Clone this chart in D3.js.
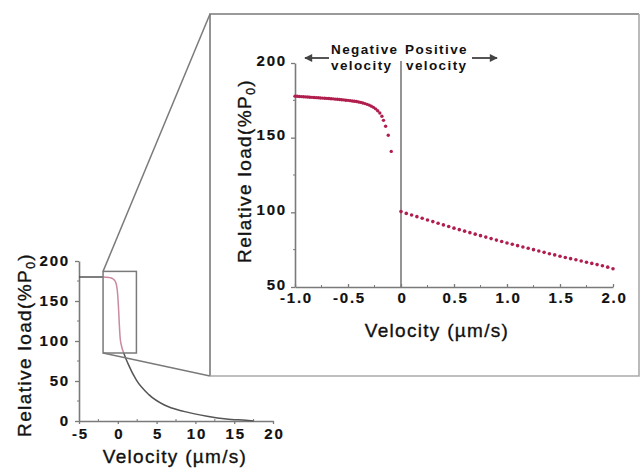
<!DOCTYPE html>
<html><head><meta charset="utf-8">
<script src="https://cdn.jsdelivr.net/npm/d3@7"></script>
<style>
body{margin:0;background:#fff;}
svg{display:block;font-family:"Liberation Sans",Arial,sans-serif;}
.tick text{font-weight:bold;fill:#111;}
</style></head><body>
<svg id="c" width="640" height="473"></svg>
<script>
// ---- Data ----
// Main (overview) curve
const mainV    = [-5, -3, -2, -1.5, -1, -0.6, -0.3, -0.1, 0, 0.1, 0.2, 0.3, 0.45, 0.8, 1.3, 2.4, 4, 6, 8.5, 11.5, 14, 16.5, 17.5];
const mainLoad = [180, 180, 180, 179.8, 179.2, 177.5, 174, 166, 156, 140, 120, 104, 95, 84, 72, 51, 33, 20, 12, 6, 2.5, 0.8, 0];
const mainXTicks = [-5, 0, 5, 10, 15, 20];
const mainYTicks = [0, 50, 100, 150, 200];
const zoomBoxV = [-1.9, 2.4];
const zoomBoxLoad = [85, 187];

// Inset: negative velocity points
const negV = [-1.00,-0.98,-0.96,-0.94,-0.92,-0.90,-0.88,-0.86,-0.84,-0.82,-0.80,-0.78,-0.76,-0.74,-0.72,-0.70,-0.68,-0.66,-0.64,-0.62,-0.60,-0.58,-0.56,-0.54,-0.52,-0.50,-0.48,-0.46,-0.44,-0.42,-0.40,-0.38,-0.36,-0.34,-0.32,-0.30,-0.28,-0.26,-0.24,-0.22,-0.20,-0.18,-0.165,-0.145,-0.12,-0.092];
const negLoad = [177.8,177.7,177.6,177.5,177.4,177.3,177.2,177.1,177.0,176.9,176.8,176.7,176.6,176.5,176.4,176.3,176.2,176.1,176.0,175.8,175.7,175.6,175.4,175.3,175.1,175.0,174.8,174.6,174.4,174.2,173.9,173.6,173.2,172.8,172.3,171.8,171.1,170.3,169.3,168.0,166.5,164.3,161.6,157.6,151.6,140.8];
// Inset: positive velocity points
const posV = [0,0.05,0.10,0.15,0.20,0.25,0.30,0.35,0.40,0.45,0.50,0.55,0.60,0.65,0.70,0.75,0.80,0.85,0.90,0.95,1.00,1.05,1.10,1.15,1.20,1.25,1.30,1.35,1.40,1.45,1.50,1.55,1.60,1.65,1.70,1.75,1.80,1.85,1.90,1.95,2.00];
const posLoad = [100.5,99.3,98.2,97.1,96.0,94.9,93.8,92.7,91.6,90.5,89.4,88.4,87.4,86.4,85.4,84.4,83.4,82.4,81.4,80.5,79.5,78.6,77.7,76.8,75.9,75.0,74.1,73.2,72.3,71.5,70.6,69.8,69.0,68.2,67.4,66.6,65.8,65.0,64.2,63.3,62.2];
const insetXTicks = [-1.0, -0.5, 0, 0.5, 1.0, 1.5, 2.0];
const insetYTicks = [50, 100, 150, 200];

// ---- Drawing ----
const svg = d3.select("#c");
const grey = "#7a7a7a";
const dotCol = "#b01e4e";

// main scales
const mx = d3.scaleLinear().domain([-5, 20]).range([79, 273]);
const my = d3.scaleLinear().domain([0, 200]).range([421, 261]);
// inset scales
const ix = d3.scaleLinear().domain([-1, 2]).range([295, 613]);
const iy = d3.scaleLinear().domain([50, 200]).range([287, 63]);

// inset frame
const frame = {x0: 210, y0: 14, x1: 639, y1: 376};
svg.append("path")
  .attr("d", `M${frame.x0},${frame.y1}V${frame.y0}H${frame.x1}`)
  .attr("fill","none").attr("stroke", grey).attr("stroke-width",1.6);
svg.append("path")
  .attr("d", `M${frame.x1},${frame.y0}V${frame.y1}H${frame.x0}`)
  .attr("fill","none").attr("stroke", "#aaa").attr("stroke-width",1.6);

function styleAxis(g){
  g.select(".domain").attr("stroke", grey).attr("stroke-width",1.6);
  g.selectAll(".tick line").attr("stroke", grey).attr("stroke-width",1.3);
  g.selectAll(".tick text").attr("font-size",15).attr("letter-spacing",1.8)
    .attr("stroke","#111").attr("stroke-width",0.2);
}
function minor(g, scale, vals, orient, pos, len){
  g.selectAll(null).data(vals).enter().append("line")
    .attr("stroke", grey).attr("stroke-width",1)
    .each(function(d){
      const s = d3.select(this);
      if(orient==="x"){ s.attr("x1",scale(d)).attr("x2",scale(d)).attr("y1",pos).attr("y2",pos-len); }
      else { s.attr("y1",scale(d)).attr("y2",scale(d)).attr("x1",pos).attr("x2",pos-len); }
    });
}
function yTitle(x, y){
  const t = svg.append("text").attr("transform",`translate(${x},${y}) rotate(-90)`).attr("text-anchor","middle")
    .attr("font-size",19).attr("letter-spacing",1.4).attr("fill","#111").attr("stroke","#111").attr("stroke-width",0.35);
  t.append("tspan").text("Relative load(%P");
  t.append("tspan").attr("font-size",12).attr("dy",4).text("0");
  t.append("tspan").attr("dy",-4).text(")");
}
function xTitle(x, y){
  svg.append("text").attr("x",x).attr("y",y).attr("text-anchor","middle")
    .attr("font-size",19).attr("letter-spacing",1.3).attr("fill","#111")
    .attr("stroke","#111").attr("stroke-width",0.35).text("Velocity (µm/s)");
}

// ---- main axes ----
const gmx = svg.append("g").attr("transform","translate(0,421)")
  .call(d3.axisBottom(mx).tickValues(mainXTicks).tickSize(3).tickSizeOuter(0).tickPadding(4).tickFormat(d=>String(d)));
styleAxis(gmx);
gmx.selectAll(".tick text").attr("dx",1);
const gmy = svg.append("g").attr("transform","translate(79,0)")
  .call(d3.axisLeft(my).tickValues(mainYTicks).tickSize(4).tickSizeOuter(0).tickPadding(5));
styleAxis(gmy);
const gMinor = svg.append("g");
minor(gMinor, mx, [-2.5,2.5,7.5,12.5,17.5], "x", 421, 2);
minor(gMinor, my, [25,75,125,175], "y", 79, 2);

// main curve
const line = d3.line().x(d=>mx(d[0])).y(d=>my(d[1])).curve(d3.curveMonotoneX);
const mainData = mainV.map((v,i)=>[v, mainLoad[i]]);
svg.append("path").attr("d", line(mainData)).attr("fill","none").attr("stroke","#555").attr("stroke-width",1.5);

const bx0 = mx(zoomBoxV[0]), bx1 = mx(zoomBoxV[1]), by0 = my(zoomBoxLoad[1]), by1 = my(zoomBoxLoad[0]);
svg.append("clipPath").attr("id","boxclip").append("rect")
  .attr("x",bx0).attr("y",by0).attr("width",bx1-bx0).attr("height",by1-by0);
svg.append("path").attr("d", line(mainData)).attr("clip-path","url(#boxclip)")
  .attr("fill","none").attr("stroke","#fff").attr("stroke-width",3);
svg.append("path").attr("d", line(mainData)).attr("clip-path","url(#boxclip)")
  .attr("fill","none").attr("stroke","#c98aa2").attr("stroke-width",1.5);

// zoom box
svg.append("rect").attr("x",bx0).attr("y",by0).attr("width",bx1-bx0).attr("height",by1-by0)
  .attr("fill","none").attr("stroke",grey).attr("stroke-width",1.5);
// connectors
svg.append("line").attr("x1",bx0).attr("y1",by0).attr("x2",frame.x0).attr("y2",frame.y0).attr("stroke",grey).attr("stroke-width",1.5);
svg.append("line").attr("x1",bx0).attr("y1",by1).attr("x2",frame.x0).attr("y2",frame.y1).attr("stroke",grey).attr("stroke-width",1.5);

// main titles
xTitle(175, 463);
yTitle(31, 345);

// ---- inset axes ----
const gix = svg.append("g").attr("transform","translate(0,287)")
  .call(d3.axisBottom(ix).tickValues(insetXTicks).tickSize(-3).tickSizeOuter(0).tickPadding(5)
    .tickFormat(d=> d===0 ? "0" : d.toFixed(1)));
styleAxis(gix);
gix.selectAll(".tick text").attr("dx",1);
const giy = svg.append("g").attr("transform","translate(295,0)")
  .call(d3.axisLeft(iy).tickValues(insetYTicks).tickSize(4).tickSizeOuter(0).tickPadding(4));
styleAxis(giy);
giy.selectAll(".tick text").attr("dy","0.15em");
const gMinor2 = svg.append("g");
minor(gMinor2, ix, [-0.75,-0.25,0.25,0.75,1.25,1.75], "x", 287, 2);
minor(gMinor2, iy, [75,125,175], "y", 295, 2);

// zero line
svg.append("line").attr("x1",ix(0)).attr("x2",ix(0)).attr("y1",61).attr("y2",287)
  .attr("stroke",grey).attr("stroke-width",1.6);

// points
svg.append("g").selectAll("circle").data(negV.map((v,i)=>[v,negLoad[i]])).enter().append("circle")
  .attr("cx",d=>ix(d[0])).attr("cy",d=>iy(d[1])).attr("r",1.7).attr("fill",dotCol);
svg.append("g").selectAll("circle").data(posV.map((v,i)=>[v,posLoad[i]])).enter().append("circle")
  .attr("cx",d=>ix(d[0])).attr("cy",d=>iy(d[1])).attr("r",1.8).attr("fill",dotCol);

// annotations (two-line labels)
const ann = svg.append("g").attr("font-size",13.5).attr("font-weight","bold").attr("fill","#111").attr("letter-spacing",1.4);
ann.append("text").attr("x",331).attr("y",54).text("Negative");
ann.append("text").attr("x",331).attr("y",69.5).text("velocity");
ann.append("text").attr("x",405).attr("y",54).text("Positive");
ann.append("text").attr("x",406).attr("y",69.5).text("velocity");
svg.append("defs").append("marker").attr("id","ah").attr("viewBox","0 0 10 10").attr("refX",9).attr("refY",5)
  .attr("markerWidth",5).attr("markerHeight",4).attr("orient","auto-start-reverse")
  .append("path").attr("d","M0,0L10,5L0,10z").attr("fill","#444");
svg.append("line").attr("x1",329).attr("x2",305).attr("y1",58).attr("y2",58)
  .attr("stroke","#555").attr("stroke-width",2).attr("marker-end","url(#ah)");
svg.append("line").attr("x1",472).attr("x2",497).attr("y1",58).attr("y2",58)
  .attr("stroke","#555").attr("stroke-width",2).attr("marker-end","url(#ah)");

// inset titles
xTitle(437, 337);
yTitle(251, 171);
</script>
</body></html>
